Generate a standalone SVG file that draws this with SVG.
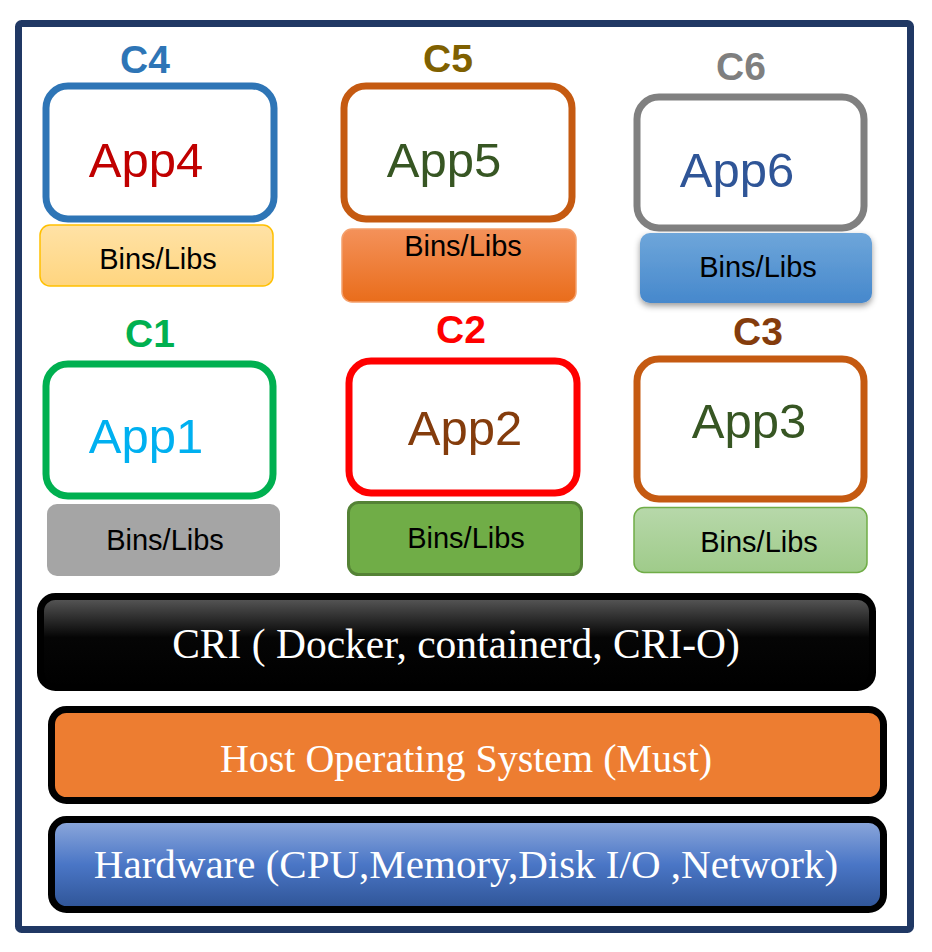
<svg xmlns="http://www.w3.org/2000/svg" width="932" height="952" viewBox="0 0 932 952">
<defs>
<linearGradient id="gC4" x1="0" y1="0" x2="0" y2="1"><stop offset="0" stop-color="#ffe2a6"/><stop offset="1" stop-color="#ffd57f"/></linearGradient>
<linearGradient id="gC5" x1="0" y1="0" x2="0" y2="1"><stop offset="0" stop-color="#f4915a"/><stop offset="1" stop-color="#e96d1b"/></linearGradient>
<linearGradient id="gC6" x1="0" y1="0" x2="0" y2="1"><stop offset="0" stop-color="#6ea6da"/><stop offset="1" stop-color="#4688cc"/></linearGradient>
<linearGradient id="gC3" x1="0" y1="0" x2="0" y2="1"><stop offset="0" stop-color="#b7d8aa"/><stop offset="1" stop-color="#9fcb8a"/></linearGradient>
<linearGradient id="gCRI" x1="0" y1="0" x2="0" y2="1"><stop offset="0" stop-color="#5a5a5a"/><stop offset="0.45" stop-color="#050505"/><stop offset="1" stop-color="#000"/></linearGradient>
<linearGradient id="gHW" x1="0" y1="0" x2="0" y2="1"><stop offset="0" stop-color="#8ea9dc"/><stop offset="0.5" stop-color="#4a76c6"/><stop offset="1" stop-color="#2f5496"/></linearGradient>
<filter id="sh" x="-10%" y="-20%" width="120%" height="150%"><feDropShadow dx="0" dy="3" stdDeviation="3" flood-color="#000" flood-opacity="0.4"/></filter>
</defs>
<style>
.app{fill:#fff;stroke-width:7}
.cl{font-family:"Liberation Sans",Arial,sans-serif;font-weight:bold;font-size:39px;text-anchor:middle}
.at{font-family:"Liberation Sans",Arial,sans-serif;font-size:49px;text-anchor:middle}
.bl{font-family:"Liberation Sans",Arial,sans-serif;font-size:29px;text-anchor:middle;fill:#000}
.bar{stroke:#000;stroke-width:7}
.bt{font-family:"Liberation Serif","Times New Roman",serif;fill:#fff;text-anchor:middle}
</style>
<rect x="18.5" y="23.5" width="892" height="906" rx="3" fill="#fff" stroke="#203864" stroke-width="7"/>

<g id="c4">
<text class="cl" x="145" y="73" fill="#2e75b6">C4</text>
<rect class="app" x="46" y="86" width="228" height="133" rx="22" stroke="#2e75b6"/>
<text class="at" x="146" y="177" fill="#c00000">App4</text>
<rect x="40" y="225" width="233" height="61" rx="10" fill="url(#gC4)" stroke="#ffc000" stroke-width="1.5"/>
<text class="bl" x="158" y="269">Bins/Libs</text>
</g>

<g id="c5">
<text class="cl" x="448" y="72" fill="#7f6000">C5</text>
<rect class="app" x="344" y="86" width="228" height="133" rx="22" stroke="#c55a11"/>
<text class="at" x="444" y="177" fill="#375623">App5</text>
<rect x="342" y="229" width="234" height="73" rx="10" fill="url(#gC5)" stroke="#f4a06c" stroke-width="1.5"/>
<text class="bl" x="463" y="256">Bins/Libs</text>
</g>

<g id="c6">
<text class="cl" x="741" y="80" fill="#7f7f7f">C6</text>
<rect class="app" x="637" y="97" width="227" height="131" rx="22" stroke="#808080"/>
<text class="at" x="737" y="187" fill="#2f5597">App6</text>
<rect x="640" y="233" width="232" height="70" rx="10" fill="url(#gC6)" filter="url(#sh)"/>
<text class="bl" x="758" y="277">Bins/Libs</text>
</g>

<g id="c1">
<text class="cl" x="150" y="347" fill="#00b050">C1</text>
<rect class="app" x="46" y="364" width="227" height="132" rx="22" stroke="#00b050"/>
<text class="at" x="146" y="453" fill="#00b0f0">App1</text>
<rect x="47" y="504" width="233" height="72" rx="10" fill="#a5a5a5"/>
<text class="bl" x="165" y="550">Bins/Libs</text>
</g>

<g id="c2">
<text class="cl" x="461" y="343" fill="#ff0000">C2</text>
<rect class="app" x="349" y="361" width="228" height="132" rx="22" stroke="#ff0000"/>
<text class="at" x="465" y="445" fill="#843c0c">App2</text>
<rect x="348.5" y="502.5" width="233" height="72" rx="10" fill="#70ad47" stroke="#548235" stroke-width="3"/>
<text class="bl" x="466" y="548">Bins/Libs</text>
</g>

<g id="c3">
<text class="cl" x="758" y="345" fill="#843c0c">C3</text>
<rect class="app" x="637" y="359" width="227" height="140" rx="22" stroke="#c55a11"/>
<text class="at" x="749" y="438" fill="#375623">App3</text>
<rect x="634" y="507.5" width="233" height="65" rx="10" fill="url(#gC3)" stroke="#70ad47" stroke-width="1.5"/>
<text class="bl" x="759" y="552">Bins/Libs</text>
</g>

<g id="cri">
<rect class="bar" x="40.5" y="596.5" width="832" height="91" rx="15" fill="url(#gCRI)"/>
<text class="bt" x="456" y="658" font-size="41.5">CRI ( Docker, containerd, CRI-O)</text>
</g>

<g id="host">
<rect class="bar" x="51.5" y="709.5" width="832" height="91" rx="15" fill="#ed7d31"/>
<text class="bt" x="466" y="772" font-size="40">Host Operating System (Must)</text>
</g>

<g id="hardware">
<rect class="bar" x="51.5" y="819.5" width="832" height="90" rx="15" fill="url(#gHW)"/>
<text class="bt" x="466" y="878" font-size="41">Hardware (CPU,Memory,Disk I/O ,Network)</text>
</g>

<g id="connectors"></g>
</svg>
